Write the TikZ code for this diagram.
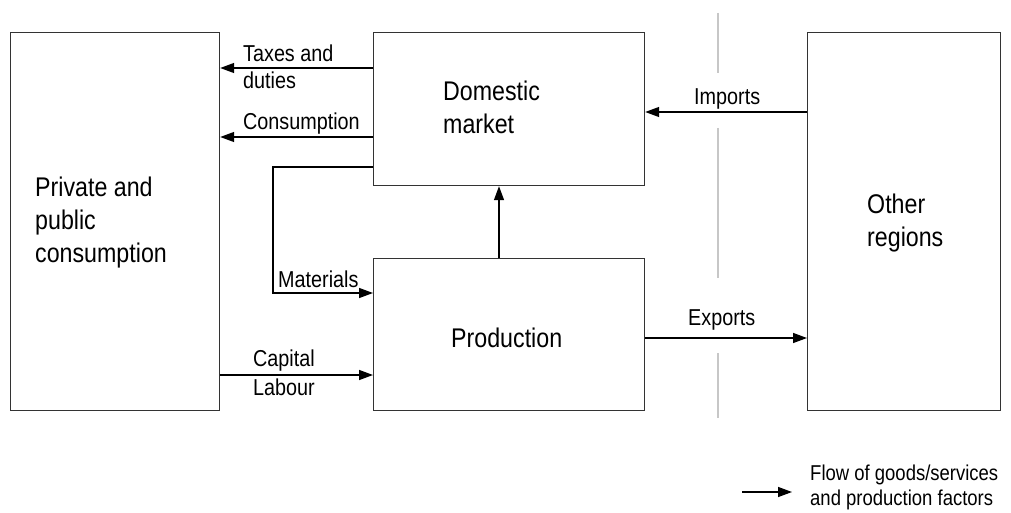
\documentclass[tikz,border=0pt]{standalone}
\usepackage{fontspec}
\setmainfont[FakeStretch=0.86]{Liberation Sans}
\usetikzlibrary{arrows.meta}

\begin{document}
\begin{tikzpicture}[x=1pt,y=-1pt,
    box/.style={draw=black!80,line width=1.2pt,inner sep=0pt,anchor=north west},
    big/.style={font=\fontsize{27}{33}\selectfont,align=left,anchor=base west,inner sep=0pt},
    small/.style={font=\fontsize{23}{27}\selectfont,align=left,anchor=base west,inner sep=0pt},
    flow/.style={line width=1.4pt,-{Triangle[length=14pt,width=10pt]}},
    border/.style={draw=black!22,line width=2pt}
]
\useasboundingbox (0,0) rectangle (1011,513);
% boxes
\node[box,minimum width=209pt,minimum height=378pt] (cons) at (10,32) {};
\node[box,minimum width=271pt,minimum height=153pt] (dom) at (373,32) {};
\node[box,minimum width=271pt,minimum height=152pt] (prod) at (373,258) {};
\node[box,minimum width=193pt,minimum height=378pt] (other) at (807,32) {};
\node[big] (constext) at (35,262) {Private and\\public\\consumption};
\node[big] (domtext) at (443,134) {Domestic\\market};
\node[big] (prodtext) at (451,347) {Production};
\node[big] (othertext) at (867,246) {Other\\regions};
% region border
\draw[border] (718,13) -- (718,73) (718,128) -- (718,278) (718,353) -- (718,418);
% flows
\coordinate (taxes) at ([yshift=-36pt]dom.north west);
\coordinate (consum) at ([yshift=-105pt]dom.north west);
\coordinate (mater) at ([yshift=-135pt]dom.north west);
\coordinate (matin) at ([yshift=-35pt]prod.north west);
\coordinate (capin) at ([yshift=-117pt]prod.north west);
\coordinate (supply) at ([xshift=126pt]prod.north west);
\coordinate (imports) at ([yshift=-80pt]dom.north east);
\coordinate (exports) at ([yshift=-80pt]prod.north east);
\draw[flow] (taxes) -- (cons.east |- taxes);
\draw[flow] (consum) -- (cons.east |- consum);
\draw[flow] (mater) -- ++(-100,0) |- (matin);
\draw[flow] (cons.east |- capin) -- (capin);
\draw[flow] (supply) -- (dom.south -| supply);
\draw[flow] (other.west |- imports) -- (imports);
\draw[flow] (exports) -- (other.west |- exports);
\node[small] (taxlabel) at (243,89) {Taxes and\\duties};
\node[small] (conslabel) at (243,130) {Consumption};
\node[small] (matlabel) at (278,287) {Materials};
\node[small] (caplabel) at (253,395) {Capital\\[2pt]Labour};
\node[small] (implabel) at (694,105) {Imports};
\node[small] (explabel) at (688,325) {Exports};
% legend
\coordinate (legend) at (742,492);
\draw[flow] (legend) -- ++(50,0);
\node[small,font=\fontsize{21.5}{25}\selectfont] (legtext) at (810,505) {Flow of goods/services\\and production factors};
\end{tikzpicture}
\end{document}
